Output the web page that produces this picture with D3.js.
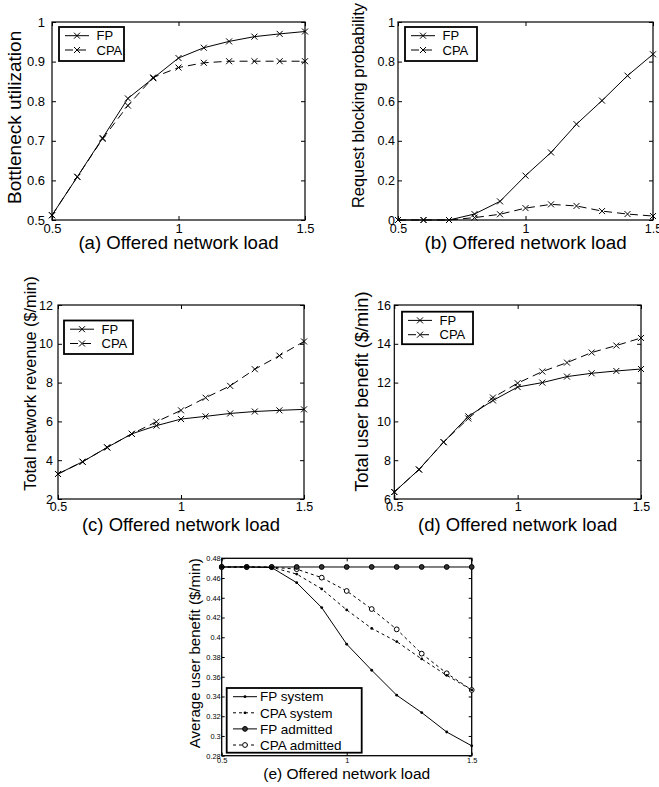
<!DOCTYPE html>
<html>
<head>
<meta charset="utf-8">
<script src="https://cdn.jsdelivr.net/npm/d3@7"></script>
<style>
  body { margin: 0; background: #fff; }
  text { font-family: "Liberation Sans", Arial, sans-serif; }
</style>
</head>
<body>
<div id="chart"></div>
<script>
// offered network load, shared by every panel
const loads = [0.5, 0.6, 0.7, 0.8, 0.9, 1.0, 1.1, 1.2, 1.3, 1.4, 1.5];
const xTicks = [0.5, 1, 1.5];

// (a) bottleneck utilization
const utilFP  = [0.512, 0.609, 0.707, 0.807, 0.858, 0.909, 0.935, 0.951, 0.963, 0.970, 0.976];
const utilCPA = [0.512, 0.609, 0.705, 0.789, 0.860, 0.885, 0.897, 0.901, 0.901, 0.901, 0.901];
const utilTicks = [0.5, 0.6, 0.7, 0.8, 0.9, 1];

// (b) request blocking probability
const blockFP  = [0, 0, 0, 0.030, 0.094, 0.224, 0.341, 0.484, 0.603, 0.729, 0.837];
const blockCPA = [0, 0, 0, 0.012, 0.029, 0.060, 0.079, 0.071, 0.045, 0.030, 0.020];
const blockTicks = [0, 0.2, 0.4, 0.6, 0.8, 1];

// (c) total network revenue ($/min)
const revenueFP  = [3.29, 3.92, 4.66, 5.36, 5.78, 6.12, 6.26, 6.41, 6.51, 6.57, 6.62];
const revenueCPA = [3.29, 3.92, 4.66, 5.36, 5.98, 6.57, 7.22, 7.83, 8.69, 9.39, 10.12];
const revenueTicks = [2, 4, 6, 8, 10, 12];

// (d) total user benefit ($/min)
const benefitFP  = [6.36, 7.52, 8.93, 10.26, 11.08, 11.77, 12.00, 12.31, 12.48, 12.60, 12.70];
const benefitCPA = [6.36, 7.52, 8.93, 10.15, 11.23, 11.97, 12.57, 13.03, 13.55, 13.91, 14.30];
const benefitTicks = [6, 8, 10, 12, 14, 16];

// (e) average user benefit ($/min)
const avgFPsystem    = [0.4712, 0.4712, 0.4706, 0.4553, 0.4301, 0.3930, 0.3666, 0.3413, 0.3237, 0.3040, 0.2900];
const avgCPAsystem   = [0.4712, 0.4712, 0.4710, 0.4640, 0.4490, 0.4277, 0.4090, 0.3956, 0.3780, 0.3614, 0.3466];
const avgFPadmitted  = [0.4712, 0.4712, 0.4712, 0.4712, 0.4712, 0.4712, 0.4712, 0.4712, 0.4712, 0.4712, 0.4712];
const avgCPAadmitted = [0.4712, 0.4712, 0.4710, 0.4690, 0.4604, 0.4469, 0.4286, 0.4080, 0.3834, 0.3635, 0.3466];
const avgTicks = [0.28, 0.3, 0.32, 0.34, 0.36, 0.38, 0.4, 0.42, 0.44, 0.46, 0.48];

const svg = d3.select("#chart").append("svg")
  .attr("width", 659)
  .attr("height", 787);

function marker(sel, kind, cx, cy) {
  if (kind === "x") {
    const s = 3;
    sel.append("path")
      .attr("d", `M${cx - s},${cy - s}L${cx + s},${cy + s}M${cx - s},${cy + s}L${cx + s},${cy - s}`)
      .attr("stroke", "#000").attr("stroke-width", 1).attr("fill", "none");
  } else if (kind === "dot") {
    sel.append("circle").attr("cx", cx).attr("cy", cy).attr("r", 1.4).attr("fill", "#000");
  } else if (kind === "ofill") {
    sel.append("circle").attr("cx", cx).attr("cy", cy).attr("r", 2.4)
      .attr("fill", "#333").attr("stroke", "#000").attr("stroke-width", 1);
  } else if (kind === "open") {
    sel.append("circle").attr("cx", cx).attr("cy", cy).attr("r", 2.4)
      .attr("fill", "#fff").attr("stroke", "#000").attr("stroke-width", 1);
  }
}

function panel(p) {
  const x = d3.scaleLinear().domain([0.5, 1.5]).range([p.left, p.right]);
  const y = d3.scaleLinear().domain([p.yTicks[0], p.yTicks[p.yTicks.length - 1]]).range([p.bottom, p.top]);
  const g = svg.append("g");
  const fmt = d => String(d);

  const styleAxis = a => {
    a.select(".domain").remove();
    a.selectAll("line").attr("stroke", "#000");
    a.selectAll("text").attr("font-size", p.tickSize).attr("fill", "#000")
      .attr("font-family", "Liberation Sans, Arial, sans-serif");
  };

  g.append("g").attr("transform", `translate(0,${p.bottom})`)
    .call(d3.axisBottom(x).tickValues(xTicks).tickSize(-p.tick).tickPadding(p.xPad).tickFormat(fmt))
    .call(styleAxis);
  g.append("g").attr("transform", `translate(0,${p.top})`)
    .call(d3.axisTop(x).tickValues(xTicks).tickSize(-p.tick).tickFormat(""))
    .call(styleAxis);
  g.append("g").attr("transform", `translate(${p.left},0)`)
    .call(d3.axisLeft(y).tickValues(p.yTicks).tickSize(-p.tick).tickPadding(p.yPad).tickFormat(fmt))
    .call(styleAxis);
  g.append("g").attr("transform", `translate(${p.right},0)`)
    .call(d3.axisRight(y).tickValues(p.yTicks).tickSize(-p.tick).tickFormat(""))
    .call(styleAxis);

  g.append("rect")
    .attr("x", p.left).attr("y", p.top)
    .attr("width", p.right - p.left).attr("height", p.bottom - p.top)
    .attr("fill", "none").attr("stroke", "#000").attr("stroke-width", p.frame);

  // drawn last-to-first so the first series sits on top, as in the figure
  const line = d3.line().x((d, i) => x(loads[i])).y(d => y(d));
  p.series.slice().reverse().forEach(s => {
    g.append("path").datum(s.values)
      .attr("d", line)
      .attr("fill", "none").attr("stroke", "#000").attr("stroke-width", 1)
      .attr("stroke-dasharray", s.dash || null);
    s.values.forEach((v, i) => marker(g, s.marker, x(loads[i]), y(v)));
  });

  // legend
  const L = p.legend;
  const lg = g.append("g");
  lg.append("rect").attr("x", L.x).attr("y", L.y).attr("width", L.w).attr("height", L.h)
    .attr("fill", "#fff").attr("stroke", "#000").attr("stroke-width", 1.8);
  p.series.forEach((s, i) => {
    const ry = L.y + L.first + i * L.step;
    lg.append("line")
      .attr("x1", L.x + L.lx).attr("x2", L.x + L.lx + L.len)
      .attr("y1", ry).attr("y2", ry)
      .attr("stroke", "#000").attr("stroke-width", 1)
      .attr("stroke-dasharray", s.dash || null);
    marker(lg, s.marker, L.x + L.lx + L.len / 2, ry);
    lg.append("text")
      .attr("x", L.x + L.tx).attr("y", ry).attr("dy", "0.35em")
      .attr("font-size", L.font).text(s.label);
  });

  // axis labels
  g.append("text")
    .attr("x", (p.left + p.right) / 2).attr("y", p.xLabelY)
    .attr("text-anchor", "middle").attr("font-size", p.xLabelSize)
    .text(p.xLabel);
  g.append("text")
    .attr("transform", `translate(${p.yLabelX},${p.yLabelStart}) rotate(-90)`)
    .attr("text-anchor", "start").attr("font-size", p.yLabelSize)
    .text(p.yLabel);
}

const legAD = { first: 8.7, step: 14.3, lx: 6, len: 24, tx: 37.5, font: 13 };

panel({
  left: 52, right: 305, top: 22, bottom: 220, tick: 4, frame: 1.2, tickSize: 13,
  xPad: 4, yPad: 7, yTicks: utilTicks,
  series: [
    { label: "FP", values: utilFP, marker: "x" },
    { label: "CPA", values: utilCPA, marker: "x", dash: "8,5" }
  ],
  legend: Object.assign({ x: 59, y: 27, w: 65, h: 34 }, legAD),
  xLabel: "(a) Offered network load", xLabelY: 249, xLabelSize: 18.6,
  yLabel: "Bottleneck utilization", yLabelX: 21, yLabelStart: 204, yLabelSize: 19
});

panel({
  left: 398, right: 653, top: 22, bottom: 220, tick: 4, frame: 1.2, tickSize: 12.5,
  xPad: 4, yPad: 3, yTicks: blockTicks,
  series: [
    { label: "FP", values: blockFP, marker: "x" },
    { label: "CPA", values: blockCPA, marker: "x", dash: "8,5" }
  ],
  legend: Object.assign({ x: 405, y: 27, w: 72, h: 34 }, legAD),
  xLabel: "(b) Offered network load", xLabelY: 249, xLabelSize: 18.8,
  yLabel: "Request blocking probability", yLabelX: 364, yLabelStart: 208, yLabelSize: 16.4
});

panel({
  left: 58, right: 304, top: 305, bottom: 499, tick: 4, frame: 1.2, tickSize: 12.5,
  xPad: 3, yPad: 5, yTicks: revenueTicks,
  series: [
    { label: "FP", values: revenueFP, marker: "x" },
    { label: "CPA", values: revenueCPA, marker: "x", dash: "8,5" }
  ],
  legend: Object.assign({ x: 64, y: 320.5, w: 69, h: 33.5 }, legAD),
  xLabel: "(c) Offered network load", xLabelY: 531, xLabelSize: 18.5,
  yLabel: "Total network revenue ($/min)", yLabelX: 36, yLabelStart: 490.7, yLabelSize: 16.3
});

panel({
  left: 394.3, right: 641, top: 305, bottom: 499, tick: 4, frame: 1.2, tickSize: 12.5,
  xPad: 3, yPad: 3.3, yTicks: benefitTicks,
  series: [
    { label: "FP", values: benefitFP, marker: "x" },
    { label: "CPA", values: benefitCPA, marker: "x", dash: "8,5" }
  ],
  legend: Object.assign({ x: 402, y: 311.7, w: 71, h: 32.5 }, legAD),
  xLabel: "(d) Offered network load", xLabelY: 531, xLabelSize: 18.5,
  yLabel: "Total user benefit ($/min)", yLabelX: 368, yLabelStart: 491.7, yLabelSize: 18.2
});

panel({
  left: 221.7, right: 471.7, top: 558.3, bottom: 755.7, tick: 3, frame: 1.3, tickSize: 7.4,
  xPad: 2, yPad: 1, yTicks: avgTicks,
  series: [
    { label: "FP system", values: avgFPsystem, marker: "dot" },
    { label: "CPA system", values: avgCPAsystem, marker: "dot", dash: "3,3" },
    { label: "FP admitted", values: avgFPadmitted, marker: "ofill" },
    { label: "CPA admitted", values: avgCPAadmitted, marker: "open", dash: "3,3" }
  ],
  legend: { x: 226.7, y: 688, w: 135, h: 64.7, first: 8.7, step: 16.1, lx: 6.3, len: 24, tx: 33.3, font: 13.5 },
  xLabel: "(e) Offered network load", xLabelY: 779, xLabelSize: 15.5,
  yLabel: "Average user benefit ($/min)", yLabelX: 199.5, yLabelStart: 748.3, yLabelSize: 15.1
});
</script>
</body>
</html>
